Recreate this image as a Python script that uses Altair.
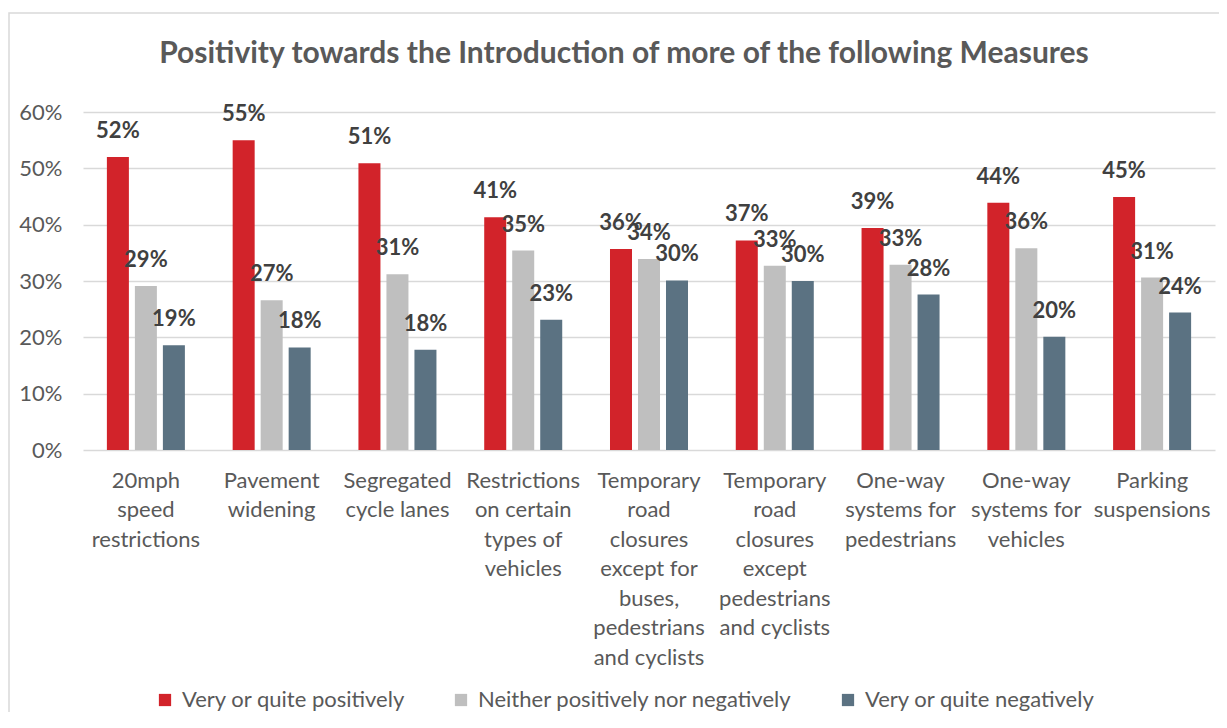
import altair as alt
import pandas as pd

TITLE = "Positivity towards the Introduction of more of the following Measures"

CATEGORIES = [
    "20mph\nspeed\nrestrictions",
    "Pavement\nwidening",
    "Segregated\ncycle lanes",
    "Restrictions\non certain\ntypes of\nvehicles",
    "Temporary\nroad\nclosures\nexcept for\nbuses,\npedestrians\nand cyclists",
    "Temporary\nroad\nclosures\nexcept\npedestrians\nand cyclists",
    "One-way\nsystems for\npedestrians",
    "One-way\nsystems for\nvehicles",
    "Parking\nsuspensions",
]

SERIES = [
    "Very or quite positively",
    "Neither positively nor negatively",
    "Very or quite negatively",
]

POSITIVE = [52.0, 55.0, 50.9, 41.3, 35.7, 37.2, 39.4, 43.9, 44.9]
NEUTRAL = [29.1, 26.6, 31.2, 35.4, 33.9, 32.7, 32.9, 35.8, 30.6]
NEGATIVE = [18.6, 18.2, 17.8, 23.1, 30.1, 30.0, 27.6, 20.1, 24.4]

COLORS = ["#D2232A", "#BFBFBF", "#5B7282"]
Y_TICKS = [0.0, 0.1, 0.2, 0.3, 0.4, 0.5, 0.6]

rows = []
for series, values in zip(SERIES, [POSITIVE, NEUTRAL, NEGATIVE]):
    for cat, v in zip(CATEGORIES, values):
        rows.append({"category": cat, "series": series, "value": v / 100})
df = pd.DataFrame(rows)

FONT = "Lato"
AXIS_COLOR = "#595959"

x_enc = alt.X(
    "category:N",
    sort=CATEGORIES,
    scale=alt.Scale(paddingInner=0, paddingOuter=0),
    axis=alt.Axis(
        title=None,
        labelExpr="split(datum.label, '\\n')",
        labelAngle=0,
        ticks=False,
        domain=False,
        labelFont=FONT,
        labelFontSize=22,
        labelColor=AXIS_COLOR,
        labelPadding=20,
        labelLineHeight=29.5,
        labelBaseline="top",
        labelOverlap=False,
        labelBound=False,
        labelLimit=300,
    ),
)
xoff_enc = alt.XOffset(
    "series:N", sort=SERIES, scale=alt.Scale(paddingInner=0.214, paddingOuter=0.853)
)
y_enc = alt.Y(
    "value:Q",
    scale=alt.Scale(domain=[0, 0.6]),
    axis=alt.Axis(
        title=None,
        values=Y_TICKS,
        format=".0%",
        ticks=False,
        domain=False,
        labelFont=FONT,
        labelFontSize=22,
        labelColor=AXIS_COLOR,
        labelPadding=21,
        gridColor="#D9D9D9",
        gridWidth=1.6,
    ),
)

base = alt.Chart(df).encode(x=x_enc, xOffset=xoff_enc, y=y_enc)

bars = base.mark_bar().encode(
    color=alt.Color(
        "series:N",
        sort=SERIES,
        scale=alt.Scale(domain=SERIES, range=COLORS),
        legend=alt.Legend(
            title=None,
            orient="none",
            legendX=71,
            legendY=577,
            direction="horizontal",
            symbolType="square",
            symbolSize=150,
            symbolStrokeWidth=0,
            labelFont=FONT,
            labelFontSize=22,
            labelColor=AXIS_COLOR,
            labelOffset=6,
            columnPadding=44,
            labelLimit=400,
        ),
    )
)

labels = base.mark_text(
    dy=-19,
    baseline="alphabetic",
    font=FONT,
    fontWeight="bold",
    fontSize=22,
    color="#404040",
).encode(text=alt.Text("value:Q", format=".0%"))

frame = alt.Chart(alt.Data(values=[{}])).mark_rect(
    fill=None, stroke="#D9D9D9", strokeWidth=1.5
).encode(
    x=alt.value(-74), x2=alt.value(1300), y=alt.value(-99), y2=alt.value(800)
)

title = alt.Chart(alt.Data(values=[{"t": TITLE}])).mark_text(
    font=FONT,
    fontSize=30,
    fontWeight="bold",
    color=AXIS_COLOR,
    align="center",
    baseline="alphabetic",
).encode(text="t:N", x=alt.value(541), y=alt.value(-49))

chart = (
    alt.layer(frame, bars, labels, title)
    .properties(
        width=1132,
        height=338,
        padding={"left": 75, "top": 104, "right": 4, "bottom": 262},
        autosize=alt.AutoSizeParams(type="none"),
        background="white",
    )
    .configure_view(stroke=None)
)

chart.save("out.html", embed_options={"renderer": "svg", "actions": False})
